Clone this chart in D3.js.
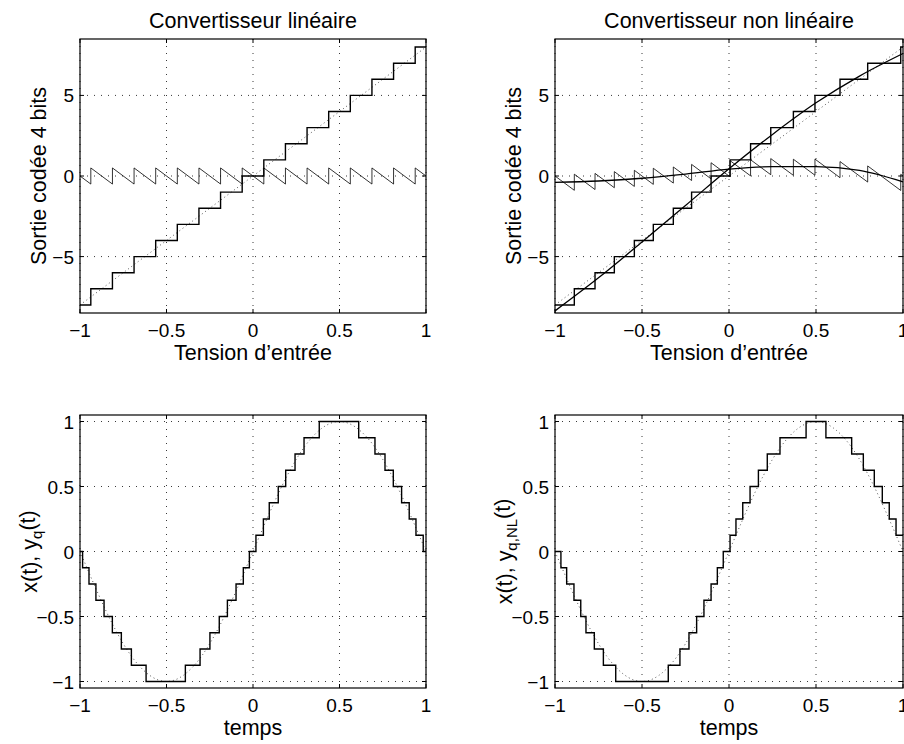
<!DOCTYPE html>
<html>
<head>
<meta charset="utf-8">
<script src="https://cdn.jsdelivr.net/npm/d3@7"></script>
<style>
  body { margin: 0; background: #fff; }
  text { font-family: "Liberation Sans", Arial, Helvetica, sans-serif; fill: #000; }
</style>
</head>
<body>
<script>
// ---- data ----
const inTicks = [-1, -0.5, 0, 0.5, 1];
const inTickLabels = ["\u22121", "\u22120.5", "0", "0.5", "1"];
const codeTicks = [-5, 0, 5];
const codeTickLabels = ["\u22125", "0", "5"];
const ampTicks = [-1, -0.5, 0, 0.5, 1];
const ampTickLabels = ["\u22121", "\u22120.5", "0", "0.5", "1"];

const codes = [-8, -7, -6, -5, -4, -3, -2, -1, 0, 1, 2, 3, 4, 5, 6, 7, 8];
const fullScale = 8;

// input values where the output code changes
const linThresholds = [-0.9375, -0.8125, -0.6875, -0.5625, -0.4375, -0.3125, -0.1875, -0.0625,
                       0.0625, 0.1875, 0.3125, 0.4375, 0.5625, 0.6875, 0.8125, 0.9375];
const nlThresholds = [-0.889, -0.770, -0.659, -0.544, -0.435, -0.320, -0.215, -0.103,
                      0.006, 0.124, 0.240, 0.370, 0.494, 0.638, 0.797, 0.987];

// ideal linear characteristic
const idealIn = [-1, 1];
const idealOut = [-8, 8];

// non linear characteristic and its deviation from the ideal line
const nlCurveIn = [-1, -0.75, -0.5, -0.25, 0, 0.25, 0.5, 0.75, 1];
const nlCurveOut = [-8.37, -6.32, -4.10, -1.83, 0.45, 2.58, 4.54, 6.20, 7.60];
const nlDevOut = [-0.40, -0.31, -0.14, 0.12, 0.43, 0.58, 0.58, 0.35, -0.36];

// test signal x(t)
const sineT = [-1, -0.9, -0.8, -0.7, -0.6, -0.5, -0.4, -0.3, -0.2, -0.1, 0,
               0.1, 0.2, 0.3, 0.4, 0.5, 0.6, 0.7, 0.8, 0.9, 1];
const sineX = [0, -0.31, -0.59, -0.81, -0.95, -1, -0.95, -0.81, -0.59, -0.31, 0,
               0.31, 0.59, 0.81, 0.95, 1, 0.95, 0.81, 0.59, 0.31, 0];

// quantized signal: times of code changes and the codes
const linTimes = [-0.985, -0.948, -0.908, -0.861, -0.813, -0.761, -0.703, -0.618,
                  -0.391, -0.306, -0.249, -0.195, -0.148, -0.098, -0.056, -0.021,
                  0.017, 0.060, 0.094, 0.146, 0.189, 0.243, 0.295, 0.383,
                  0.611, 0.705, 0.763, 0.811, 0.859, 0.903, 0.942, 0.984];
const linCodes = [0, -1, -2, -3, -4, -5, -6, -7, -8, -7, -6, -5, -4, -3, -2, -1, 0,
                  1, 2, 3, 4, 5, 6, 7, 8, 7, 6, 5, 4, 3, 2, 1, 0];
const nlTimes = [-0.966, -0.933, -0.891, -0.852, -0.822, -0.774, -0.722, -0.651,
                 -0.349, -0.282, -0.230, -0.186, -0.144, -0.103, -0.067, -0.033,
                 0.006, 0.040, 0.079, 0.121, 0.169, 0.220, 0.293, 0.443,
                 0.557, 0.705, 0.772, 0.835, 0.881, 0.921, 0.960];
const nlCodes = [0, -1, -2, -3, -4, -5, -6, -7, -8, -7, -6, -5, -4, -3, -2, -1, 0,
                 1, 2, 3, 4, 5, 6, 7, 8, 7, 6, 5, 4, 3, 2, 1];

// ---- drawing ----
const W = 904, H = 744;
const svg = d3.select("body").append("svg")
    .attr("width", W)
    .attr("height", H);

const tickFont = 19;
const labelFont = 21.5;

// staircase points for d3.curveStepAfter
const stairPoints = (x0, x1, breaks, levels) => {
    const pts = [[x0, levels[0]]];
    breaks.forEach((b, i) => pts.push([b, levels[i + 1]]));
    pts.push([x1, levels[levels.length - 1]]);
    return pts;
};

// quantization error: stair level minus ideal line
const sawPoints = (x0, x1, breaks, levels, ideal) => {
    const pts = [];
    levels.forEach((lv, i) => {
        const a = i === 0 ? x0 : breaks[i - 1];
        const c = i === levels.length - 1 ? x1 : breaks[i];
        pts.push([a, lv - ideal(a)]);
        pts.push([c, lv - ideal(c)]);
    });
    return pts;
};

const panel = (p) => {
    const g = svg.append("g");
    const x = d3.scaleLinear().domain([-1, 1]).range([p.left, p.right]);
    const y = d3.scaleLinear().domain(p.yDomain).range([p.bottom, p.top]);

    // grid
    g.selectAll(".gx").data(inTicks).join("line")
        .attr("x1", d => x(d)).attr("x2", d => x(d))
        .attr("y1", p.top).attr("y2", p.bottom)
        .attr("stroke", "#222").attr("stroke-width", 0.9)
        .attr("stroke-dasharray", "1,6");
    g.selectAll(".gy").data(p.yTicks).join("line")
        .attr("y1", d => y(d)).attr("y2", d => y(d))
        .attr("x1", p.left).attr("x2", p.right)
        .attr("stroke", "#222").attr("stroke-width", 0.9)
        .attr("stroke-dasharray", "1,6");

    p.draw(g, x, y);

    // box and inward ticks
    g.append("rect")
        .attr("x", p.left).attr("y", p.top)
        .attr("width", p.right - p.left).attr("height", p.bottom - p.top)
        .attr("fill", "none").attr("stroke", "#000").attr("stroke-width", 1.2);
    const tl = 4;
    inTicks.forEach(d => {
        g.append("line").attr("x1", x(d)).attr("x2", x(d)).attr("y1", p.bottom).attr("y2", p.bottom - tl).attr("stroke", "#000");
        g.append("line").attr("x1", x(d)).attr("x2", x(d)).attr("y1", p.top).attr("y2", p.top + tl).attr("stroke", "#000");
    });
    p.yTicks.forEach(d => {
        g.append("line").attr("y1", y(d)).attr("y2", y(d)).attr("x1", p.left).attr("x2", p.left + tl).attr("stroke", "#000");
        g.append("line").attr("y1", y(d)).attr("y2", y(d)).attr("x1", p.right).attr("x2", p.right - tl).attr("stroke", "#000");
    });

    // tick labels
    g.selectAll(".tx").data(inTicks).join("text")
        .attr("x", d => x(d)).attr("y", p.bottom + 24)
        .attr("text-anchor", "middle").attr("font-size", tickFont)
        .text((d, i) => inTickLabels[i]);
    g.selectAll(".ty").data(p.yTicks).join("text")
        .attr("x", p.left - 6).attr("y", d => y(d) + 7)
        .attr("text-anchor", "end").attr("font-size", tickFont)
        .text((d, i) => p.yTickLabels[i]);

    // labels
    const cx = (p.left + p.right) / 2, cy = (p.top + p.bottom) / 2;
    if (p.title) {
        g.append("text").attr("x", cx).attr("y", p.top - 11)
            .attr("text-anchor", "middle").attr("font-size", labelFont)
            .text(p.title);
    }
    g.append("text").attr("x", cx).attr("y", p.bottom + 47)
        .attr("text-anchor", "middle").attr("font-size", labelFont)
        .text(p.xLabel);
    const yl = g.append("text")
        .attr("transform", `translate(${p.yLabelX},${cy}) rotate(-90)`)
        .attr("text-anchor", "middle").attr("font-size", labelFont);
    p.yLabel(yl);
};

const ideal = d3.scaleLinear().domain(idealIn).range(idealOut);
const lineXY = (x, y, curve) => d3.line().x(d => x(d[0])).y(d => y(d[1])).curve(curve || d3.curveLinear);

const drawConverter = (thresholds, nonLinear) => (g, x, y) => {
    // ideal line, dotted
    g.append("path")
        .attr("d", lineXY(x, y)(idealIn.map((v, i) => [v, idealOut[i]])))
        .attr("fill", "none").attr("stroke", "#555").attr("stroke-width", 1)
        .attr("stroke-dasharray", "1,3");
    if (nonLinear) {
        g.append("path")
            .attr("d", lineXY(x, y, d3.curveMonotoneX)(nlCurveIn.map((v, i) => [v, nlCurveOut[i]])))
            .attr("fill", "none").attr("stroke", "#000").attr("stroke-width", 1.3);
        g.append("path")
            .attr("d", lineXY(x, y, d3.curveMonotoneX)(nlCurveIn.map((v, i) => [v, nlDevOut[i]])))
            .attr("fill", "none").attr("stroke", "#000").attr("stroke-width", 1.3);
    }
    // quantization error
    g.append("path")
        .attr("d", lineXY(x, y)(sawPoints(-1, 1, thresholds, codes, ideal)))
        .attr("fill", "none").attr("stroke", "#000").attr("stroke-width", 0.8);
    // output codes
    g.append("path")
        .attr("d", lineXY(x, y, d3.curveStepAfter)(stairPoints(-1, 1, thresholds, codes)))
        .attr("fill", "none").attr("stroke", "#000").attr("stroke-width", 1.4);
};

const drawSignal = (times, sigCodes) => (g, x, y) => {
    g.append("path")
        .attr("d", lineXY(x, y, d3.curveNatural)(sineT.map((t, i) => [t, sineX[i]])))
        .attr("fill", "none").attr("stroke", "#555").attr("stroke-width", 1)
        .attr("stroke-dasharray", "1,3");
    g.append("path")
        .attr("d", lineXY(x, y, d3.curveStepAfter)(stairPoints(-1, 1, times, sigCodes.map(c => c / fullScale))))
        .attr("fill", "none").attr("stroke", "#000").attr("stroke-width", 1.4);
};

const codeLabel = t => t.text("Sortie codée 4 bits");

panel({
    left: 80, right: 426, top: 39, bottom: 313, yDomain: [-8.5, 8.5],
    yTicks: codeTicks, yTickLabels: codeTickLabels,
    title: "Convertisseur linéaire", xLabel: "Tension d\u2019entrée",
    yLabelX: 46, yLabel: codeLabel,
    draw: drawConverter(linThresholds, false)
});
panel({
    left: 555, right: 903, top: 39, bottom: 313, yDomain: [-8.5, 8.5],
    yTicks: codeTicks, yTickLabels: codeTickLabels,
    title: "Convertisseur non linéaire", xLabel: "Tension d\u2019entrée",
    yLabelX: 521, yLabel: codeLabel,
    draw: drawConverter(nlThresholds, true)
});
panel({
    left: 80, right: 426, top: 415, bottom: 688, yDomain: [-1.05, 1.05],
    yTicks: ampTicks, yTickLabels: ampTickLabels,
    xLabel: "temps", yLabelX: 37,
    yLabel: t => {
        t.append("tspan").text("x(t), y");
        t.append("tspan").attr("dy", "0.3em").attr("font-size", 15).text("q");
        t.append("tspan").attr("dy", "-0.3em").text("(t)");
    },
    draw: drawSignal(linTimes, linCodes)
});
panel({
    left: 555, right: 903, top: 415, bottom: 688, yDomain: [-1.05, 1.05],
    yTicks: ampTicks, yTickLabels: ampTickLabels,
    xLabel: "temps", yLabelX: 512,
    yLabel: t => {
        t.append("tspan").text("x(t), y");
        t.append("tspan").attr("dy", "0.3em").attr("font-size", 15).text("q,NL");
        t.append("tspan").attr("dy", "-0.3em").text("(t)");
    },
    draw: drawSignal(nlTimes, nlCodes)
});
</script>
</body>
</html>
